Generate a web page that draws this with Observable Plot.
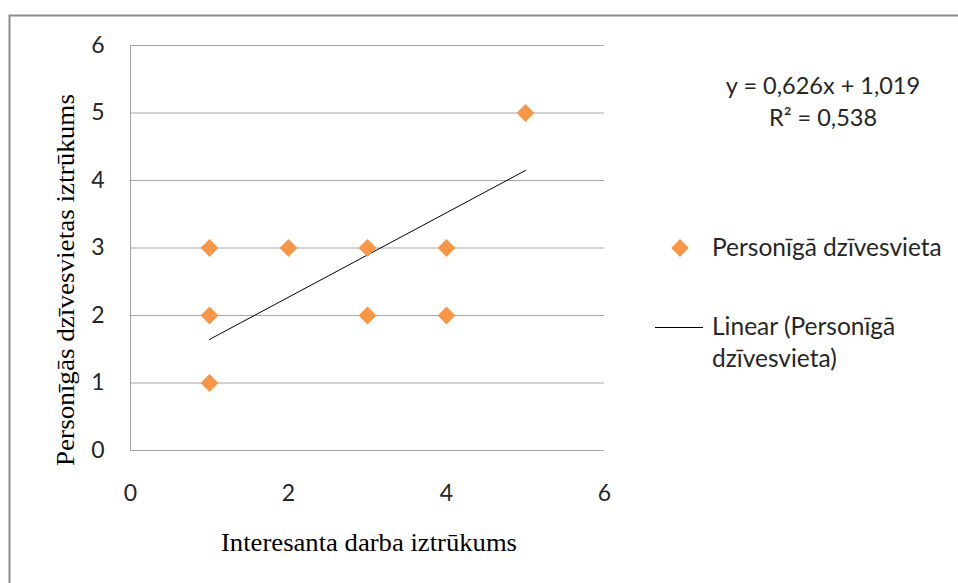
<!DOCTYPE html>
<html>
<head>
<meta charset="utf-8">
<script src="https://cdn.jsdelivr.net/npm/d3@7"></script>
<script src="https://cdn.jsdelivr.net/npm/@observablehq/plot@0.6"></script>
<style>
  html, body { margin: 0; padding: 0; background: #fff; }
  #chart { width: 958px; height: 583px; }
</style>
</head>
<body>
<div id="chart"></div>
<script>
// Data
const xValues = [1, 1, 1, 2, 3, 3, 4, 4, 5];
const yValues = [1, 2, 3, 3, 3, 2, 3, 2, 5];
const trendX = [1, 5];
const trendY = [1.645, 4.149];
const xTicks = [0, 2, 4, 6];
const yTicks = [0, 1, 2, 3, 4, 5, 6];
const seriesName = "Personīgā dzīvesvieta";
const trendName1 = "Linear (Personīgā";
const trendName2 = "dzīvesvieta)";
const equationLines = ["y = 0,626x + 1,019", "R² = 0,538"];
const xTitle = "Interesanta darba iztrūkums";
const yTitle = "Personīgās dzīvesvietas iztrūkums";

const points = xValues.map((x, i) => ({x, y: yValues[i]}));
const trend = trendX.map((x, i) => ({x, y: trendY[i]}));

const W = 958, H = 583;
const orange = "#F79646";
const gridColor = "#a6a6a6";
const textColor = "#262626";
const sans = "Lato, 'Open Sans', sans-serif";
const serif = "'Liberation Serif', 'DejaVu Serif', serif";
const fs = 23;
const lfs = 24.5;

const plot = Plot.plot({
  width: W,
  height: H,
  marginLeft: 130,
  marginRight: 354,
  marginTop: 45,
  marginBottom: 133,
  style: {fontFamily: sans, fontSize: fs + "px", color: textColor, background: "#fff", overflow: "visible"},
  x: {domain: [0, 6], label: null},
  y: {domain: [0, 6], label: null},
  marks: [
    Plot.gridY(yTicks, {stroke: gridColor, strokeOpacity: 1, strokeWidth: 1}),
    Plot.ruleX([0], {stroke: gridColor, strokeWidth: 1}),
    Plot.line(trend, {x: "x", y: "y", stroke: "#000", strokeWidth: 1}),
    Plot.dot(points, {x: "x", y: "y", symbol: "diamond2", r: 8, fill: orange, stroke: "none"}),
    Plot.axisX({ticks: xTicks, tickFormat: "d", tickSize: 0, tickPadding: 34, fontSize: fs, fill: textColor, label: null}),
    Plot.axisY({ticks: yTicks, tickFormat: "d", tickSize: 0, tickPadding: 26, fontSize: fs, fill: textColor, label: null})
  ]
});

const svg = d3.select(plot);
// outer chart border (extends past the image on right/bottom)
svg.insert("rect", ":first-child")
  .attr("x", 9.5).attr("y", 15.5).attr("width", 1000).attr("height", 1000)
  .attr("fill", "#fff").attr("stroke", "#8c8c8c").attr("stroke-width", 2);

// axis titles
svg.append("text").attr("x", 369).attr("y", 551).attr("text-anchor", "middle")
  .attr("font-family", serif).attr("font-size", 26).attr("fill", "#000")
  .attr("textLength", 296).attr("lengthAdjust", "spacingAndGlyphs").text(xTitle);
svg.append("text").attr("transform", "translate(74,280) rotate(-90)").attr("text-anchor", "middle")
  .attr("font-family", serif).attr("font-size", 26).attr("fill", "#000")
  .attr("textLength", 372).attr("lengthAdjust", "spacingAndGlyphs").text(yTitle);

// equation
equationLines.forEach((t, i) => {
  svg.append("text").attr("x", 823).attr("y", 94 + i * 32).attr("text-anchor", "middle")
    .attr("font-family", sans).attr("font-size", fs + 0.5).attr("fill", textColor).text(t);
});

// legend
const sym = d3.symbol(d3.symbolDiamond2, Math.PI * 64)();
svg.append("path").attr("d", sym).attr("transform", "translate(680,248)").attr("fill", orange);
svg.append("text").attr("x", 712).attr("y", 256).attr("text-anchor", "start").attr("font-family", sans)
  .attr("font-size", lfs).attr("fill", textColor).text(seriesName);
svg.append("line").attr("x1", 655).attr("x2", 703).attr("y1", 327.5).attr("y2", 327.5)
  .attr("stroke", "#000").attr("stroke-width", 1);
svg.append("text").attr("x", 712).attr("y", 335).attr("text-anchor", "start").attr("font-family", sans)
  .attr("font-size", lfs).attr("fill", textColor).text(trendName1);
svg.append("text").attr("x", 712).attr("y", 367).attr("text-anchor", "start").attr("font-family", sans)
  .attr("font-size", lfs).attr("fill", textColor).text(trendName2);

document.getElementById("chart").appendChild(plot);
</script>
</body>
</html>
